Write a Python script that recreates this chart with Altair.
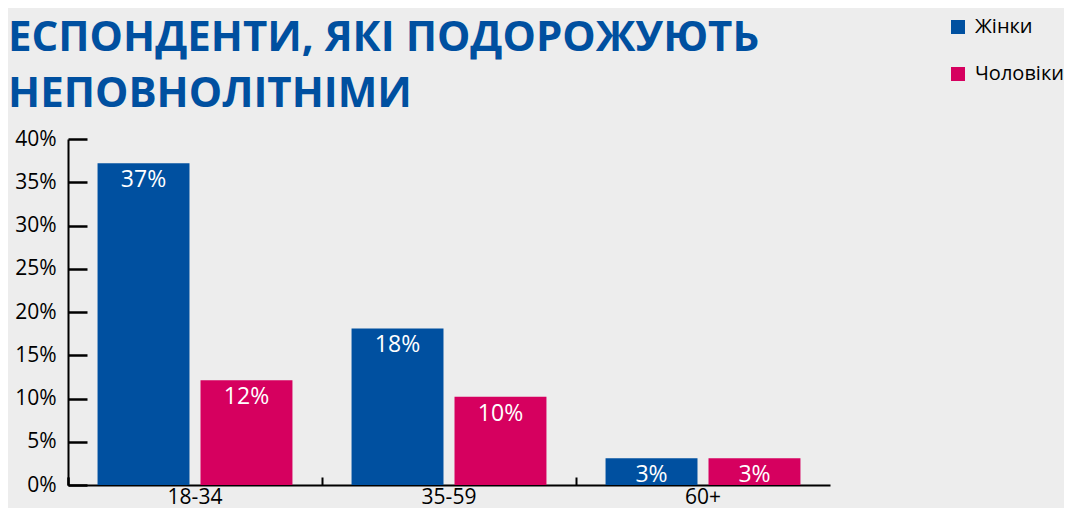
import altair as alt
import pandas as pd

ages = ["18-34", "35-59", "60+"]
genders = ["Жінки", "Чоловіки"]
women = [0.372, 0.181, 0.031]
men = [0.121, 0.102, 0.031]
colors = ["#0050A0", "#D6005F"]
title_lines = ["ЕСПОНДЕНТИ, ЯКІ ПОДОРОЖУЮТЬ", "НЕПОВНОЛІТНІМИ"]
y_ticks = [0, 0.05, 0.10, 0.15, 0.20, 0.25, 0.30, 0.35, 0.40]

rows = []
for a, w, m in zip(ages, women, men):
    rows.append({"age": a, "gender": genders[0], "value": w})
    rows.append({"age": a, "gender": genders[1], "value": m})
df = pd.DataFrame(rows)

FONT = "Open Sans"
W, H = 762, 346

x_scale = alt.Scale(domain=ages, paddingInner=0, paddingOuter=0)
xo_scale = alt.Scale(domain=genders, paddingInner=0.107, paddingOuter=0.287)
y_scale = alt.Scale(domain=[0, 0.4], nice=False)
color_scale = alt.Scale(domain=genders, range=colors)

base = alt.Chart(df)

bars = base.mark_bar().encode(
    x=alt.X("age:N", scale=x_scale, sort=ages, title=None,
            axis=alt.Axis(orient="bottom", labelAngle=0, ticks=False, domain=True,
                          domainColor="black", domainWidth=2, labelFontSize=21,
                          labelColor="black", labelFont=FONT, labelPadding=1)),
    xOffset=alt.XOffset("gender:N", scale=xo_scale, sort=genders),
    y=alt.Y("value:Q", scale=y_scale, title=None,
            axis=alt.Axis(orient="left", values=y_ticks, format=".0%", ticks=False,
                          domainColor="black", domainWidth=2, labelFontSize=21,
                          labelColor="black", labelFont=FONT, labelPadding=12, grid=False)),
    color=alt.Color("gender:N", scale=color_scale, sort=genders,
                    legend=alt.Legend(title=None, orient="none", legendX=880, legendY=-122,
                                      symbolType="square", symbolSize=196, symbolStrokeWidth=0,
                                      symbolOpacity=1, labelFontSize=20, labelFont=FONT,
                                      labelColor="black", labelOffset=7, rowPadding=27,
                                      padding=0)),
)

labels = base.mark_text(color="white", fontSize=23, font=FONT, baseline="middle", dy=17).encode(
    x=alt.X("age:N", scale=x_scale, sort=ages, title=None,
            axis=alt.Axis(orient="top", offset=-H, labels=False, domain=False, ticks=True,
                          tickSize=8, tickWidth=2, tickColor="black", bandPosition=0,
                          tickExtra=True, grid=False)),
    xOffset=alt.XOffset("gender:N", scale=xo_scale, sort=genders),
    y=alt.Y("value:Q", scale=y_scale, title=None,
            axis=alt.Axis(orient="right", offset=-W, labels=False, domain=False,
                          values=y_ticks, tickSize=19, tickWidth=2.5, tickColor="black",
                          grid=False)),
    text=alt.Text("value:Q", format=".0%"),
)

chart = alt.layer(bars, labels).properties(
    width=W, height=H,
    autosize=alt.AutoSizeParams(type="none"),
    padding={"left": 60, "top": 131, "right": 234, "bottom": 23},
    title=alt.TitleParams(text=title_lines, anchor="start", frame="group", fontSize=42,
                          font=FONT, fontWeight="bold", color="#0050A0", lineHeight=56,
                          dx=-60, dy=119, offset=20),
).configure(background="#EDEDED").configure_view(strokeWidth=0)

chart.save("out.html", embed_options={"renderer": "svg", "actions": False})
